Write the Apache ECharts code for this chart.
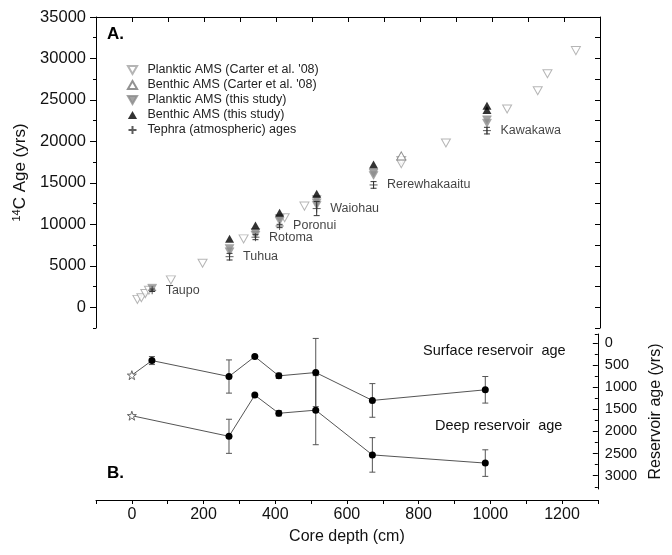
<!DOCTYPE html>
<html>
<head>
<meta charset="utf-8">
<script src="https://cdn.jsdelivr.net/npm/echarts@6/dist/echarts.min.js"></script>
<style>html,body{margin:0;padding:0;background:#fff}#c{width:672px;height:555px}</style>
</head>
<body>
<div id="c"></div>
<script>
// ---- Panel A data (depth cm, 14C age yrs) ----
const depthPlankticCarter = [15, 26, 37, 47, 108, 196, 310, 424, 479, 748, 748, 872, 1042, 1127, 1154, 1233];
const agePlankticCarter   = [950, 1150, 1650, 2050, 3300, 5300, 8250, 10800, 12200, 17700, 17300, 19800, 23900, 26100, 28150, 30950];
const depthBenthicCarter  = [748];
const ageBenthicCarter    = [18250];
const depthPlankticStudy  = [56, 271, 271, 343, 343, 410, 410, 513, 513, 513, 671, 671, 986, 986];
const agePlankticStudy    = [2300, 7100, 6700, 9000, 8700, 10700, 10400, 13000, 12600, 12300, 16200, 15900, 22600, 22200];
const depthBenthicStudy   = [271, 343, 410, 513, 671, 986, 986];
const ageBenthicStudy     = [8250, 9850, 11400, 13700, 17200, 24300, 23800];
const tephraNames = ['Taupo', 'Tuhua', 'Rotoma', 'Poronui', 'Waiohau', 'Rerewhakaaitu', 'Kawakawa'];
const tephraDepth = [56, 271, 343, 410, 513, 671, 986];
const tephraAge   = [2050, 6100, 8450, 9800, 11900, 14750, 21300];
const tephraErr   = [150, 400, 300, 200, 850, 400, 400];

// ---- Panel B data (reservoir ages) ----
const surfDepth = [0, 56, 271, 343, 410, 513, 671, 986];
const surfAge   = [730, 400, 760, 310, 745, 670, 1300, 1060];
const surfErr   = [0, 90, 375, 0, 60, 770, 380, 300];
const deepDepth = [0, 271, 343, 410, 513, 671, 986];
const deepAge   = [1645, 2110, 1180, 1590, 1520, 2530, 2715];
const deepErr   = [0, 385, 0, 60, 780, 390, 300];

// ---- Tick labels ----
const ageTicks = [0, 5000, 10000, 15000, 20000, 25000, 30000, 35000];
const ageMinorTicks = [-2500, 2500, 7500, 12500, 17500, 22500, 27500, 32500];
const resTicks = [0, 500, 1000, 1500, 2000, 2500, 3000];
const resMinorTicks = [-200, 250, 750, 1250, 1750, 2250, 2750, 3250];

const FONT = "'Liberation Sans', Arial, sans-serif";
const zip = (a, b) => a.map((v, i) => [v, b[i]]);
const zip3 = (a, b, c) => a.map((v, i) => [v, b[i], c[i]]);

const DOWN_TRI = 'path://M0,0L10,0L5,8.7Z';
const UP_TRI = 'path://M5,0L10,8.7L0,8.7Z';
const STAR = 'path://M5,0L6.2,3.6L10,3.6L6.9,5.9L8.1,9.5L5,7.3L1.9,9.5L3.1,5.9L0,3.6L3.8,3.6Z';
const PLUS = 'path://M0,5L10,5M5,0L5,10';

function errRenderer(capW, color) {
  return function (params, api) {
    const x = api.value(0), y = api.value(1), e = api.value(2);
    if (!e) return null;
    const top = api.coord([x, y + e]);
    const bot = api.coord([x, y - e]);
    const st = { stroke: color, lineWidth: 1 };
    return {
      type: 'group', children: [
        { type: 'line', shape: { x1: top[0], y1: top[1], x2: bot[0], y2: bot[1] }, style: st },
        { type: 'line', shape: { x1: top[0] - capW / 2, y1: top[1], x2: top[0] + capW / 2, y2: top[1] }, style: st },
        { type: 'line', shape: { x1: bot[0] - capW / 2, y1: bot[1], x2: bot[0] + capW / 2, y2: bot[1] }, style: st }
      ]
    };
  };
}

const chart = echarts.init(document.getElementById('c'), null, { renderer: 'canvas' });
const plain = v => String(v);

const option = {
  animation: false,
  backgroundColor: '#fff',
  textStyle: { fontFamily: FONT },
  grid: [
    { left: 96, right: 72, top: 17, height: 311 },
    { left: 96, right: 72, top: 334, height: 155 }
  ],
  legend: {
    orient: 'vertical',
    left: 121, top: 58,
    itemWidth: 20, itemHeight: 8, itemGap: 1,
    textStyle: { fontFamily: FONT, fontSize: 12.5, color: '#222', lineHeight: 14 },
    data: ['Planktic AMS (Carter et al. \'08)', 'Benthic AMS (Carter et al. \'08)', 'Planktic AMS (this study)', 'Benthic AMS (this study)', 'Tephra (atmospheric) ages']
  },
  xAxis: [
    {
      gridIndex: 0, type: 'value', position: 'top', min: -100, max: 1300, interval: 100,
      axisLine: { show: true, onZero: false, lineStyle: { color: '#000', width: 1 } },
      axisTick: { show: true, inside: true, length: 5, lineStyle: { color: '#000' } },
      axisLabel: { show: false }, splitLine: { show: false }
    },
    {
      gridIndex: 1, type: 'value', position: 'bottom', offset: 11, min: -100, max: 1300, interval: 100,
      axisLine: { show: true, onZero: false, lineStyle: { color: '#000', width: 1 } },
      axisTick: { show: true, inside: false, length: 4, lineStyle: { color: '#000' } },
      axisLabel: {
        show: true, margin: 7, fontSize: 16, color: '#111', fontFamily: FONT,
        formatter: v => (v >= 0 && v % 200 === 0) ? String(v) : ''
      },
      splitLine: { show: false },
      name: 'Core depth (cm)', nameLocation: 'middle', nameGap: 29,
      nameTextStyle: { fontSize: 16, color: '#111', fontFamily: FONT }
    }
  ],
  yAxis: [
    {
      gridIndex: 0, type: 'value', position: 'left', min: -2500, max: 35000,
      axisLine: { show: true, onZero: false, lineStyle: { color: '#000', width: 1 } },
      axisTick: { show: true, inside: false, length: 6, customValues: ageTicks, lineStyle: { color: '#000' } },
      axisLabel: { show: true, margin: 10, fontSize: 16.5, color: '#111', fontFamily: FONT, customValues: ageTicks, formatter: plain },
      splitLine: { show: false },
      name: '{s|14}C Age (yrs)', nameLocation: 'middle', nameGap: 58,
      nameTextStyle: {
        fontSize: 17, color: '#111', fontFamily: FONT,
        rich: { s: { fontSize: 11, verticalAlign: 'top', padding: [0, 0, 8, 0], fontFamily: FONT, color: '#111' } }
      }
    },
    {
      gridIndex: 0, type: 'value', position: 'left', min: -2500, max: 35000,
      axisLine: { show: false, onZero: false },
      axisTick: { show: true, inside: false, length: 3, customValues: ageMinorTicks, lineStyle: { color: '#000' } },
      axisLabel: { show: false }, splitLine: { show: false }
    },
    {
      gridIndex: 0, type: 'value', position: 'right', min: -2500, max: 35000, interval: 2500,
      axisLine: { show: true, onZero: false, lineStyle: { color: '#000', width: 1 } },
      axisTick: { show: true, inside: true, length: 5, lineStyle: { color: '#000' } },
      axisLabel: { show: false }, splitLine: { show: false }
    },
    {
      gridIndex: 1, type: 'value', position: 'right', inverse: true, min: -200, max: 3300,
      axisLine: { show: true, onZero: false, lineStyle: { color: '#000', width: 1 } },
      axisTick: { show: true, inside: true, length: 5, customValues: resTicks, lineStyle: { color: '#000' } },
      axisLabel: { show: true, margin: 7, fontSize: 14.5, color: '#111', fontFamily: FONT, customValues: resTicks, formatter: plain },
      splitLine: { show: false },
      name: 'Reservoir age (yrs)', nameLocation: 'middle', nameGap: 47,
      nameTextStyle: { fontSize: 16, color: '#111', fontFamily: FONT }
    },
    {
      gridIndex: 1, type: 'value', position: 'right', inverse: true, min: -200, max: 3300,
      axisLine: { show: false, onZero: false },
      axisTick: { show: true, inside: true, length: 3, customValues: resMinorTicks, lineStyle: { color: '#000' } },
      axisLabel: { show: false }, splitLine: { show: false }
    }
  ],
  graphic: [
    { type: 'text', left: 107, top: 26, style: { text: 'A.', font: "bold 17px 'Liberation Sans', Arial", fill: '#000' } },
    { type: 'text', left: 107, top: 465, style: { text: 'B.', font: "bold 17px 'Liberation Sans', Arial", fill: '#000' } },
    { type: 'text', left: 423, top: 343, style: { text: 'Surface reservoir  age', font: "14.5px 'Liberation Sans', Arial", fill: '#111' } },
    { type: 'text', left: 435, top: 418, style: { text: 'Deep reservoir  age', font: "14.5px 'Liberation Sans', Arial", fill: '#111' } }
  ],
  series: [
    {
      name: 'Planktic AMS (Carter et al. \'08)', type: 'scatter', xAxisIndex: 0, yAxisIndex: 0,
      symbol: DOWN_TRI, symbolSize: [9, 8],
      itemStyle: { color: '#fff', borderColor: '#a3a3a3', borderWidth: 1 },
      data: zip(depthPlankticCarter, agePlankticCarter), z: 2
    },
    {
      name: 'Benthic AMS (Carter et al. \'08)', type: 'scatter', xAxisIndex: 0, yAxisIndex: 0,
      symbol: UP_TRI, symbolSize: [9, 8],
      itemStyle: { color: '#fff', borderColor: '#777', borderWidth: 1 },
      data: zip(depthBenthicCarter, ageBenthicCarter), z: 3
    },
    {
      name: 'Planktic AMS (this study)', type: 'scatter', xAxisIndex: 0, yAxisIndex: 0,
      symbol: DOWN_TRI, symbolSize: [9, 8],
      itemStyle: { color: '#8c8c8c', borderColor: '#8c8c8c', borderWidth: 0.5 },
      data: zip(depthPlankticStudy, agePlankticStudy), z: 4
    },
    {
      name: 'Benthic AMS (this study)', type: 'scatter', xAxisIndex: 0, yAxisIndex: 0,
      symbol: UP_TRI, symbolSize: [9, 8],
      itemStyle: { color: '#000' },
      data: zip(depthBenthicStudy, ageBenthicStudy), z: 5
    },
    {
      type: 'custom', xAxisIndex: 0, yAxisIndex: 0, z: 6,
      renderItem: errRenderer(6, '#333'),
      data: zip3(tephraDepth, tephraAge, tephraErr)
    },
    {
      name: 'Tephra (atmospheric) ages', type: 'scatter', xAxisIndex: 0, yAxisIndex: 0,
      symbol: PLUS, symbolSize: 8,
      itemStyle: { color: 'none', borderColor: '#333', borderWidth: 1 },
      label: {
        show: true, position: 'right', distance: 7, fontSize: 12.5, color: '#111', fontFamily: FONT,
        formatter: p => tephraNames[p.dataIndex]
      },
      data: zip(tephraDepth, tephraAge), z: 7
    },
    // Panel B
    {
      type: 'custom', xAxisIndex: 1, yAxisIndex: 3, z: 2,
      renderItem: errRenderer(6, '#555'),
      data: zip3(surfDepth, surfAge, surfErr)
    },
    {
      type: 'custom', xAxisIndex: 1, yAxisIndex: 3, z: 2,
      renderItem: errRenderer(6, '#555'),
      data: zip3(deepDepth, deepAge, deepErr)
    },
    {
      type: 'line', xAxisIndex: 1, yAxisIndex: 3, z: 3,
      symbol: 'circle', symbolSize: 7,
      lineStyle: { color: '#555', width: 1 },
      itemStyle: { color: '#000' },
      data: zip(surfDepth, surfAge).map((d, i) => i === 0
        ? { value: d, symbol: STAR, symbolSize: 9, itemStyle: { color: '#fff', borderColor: '#666', borderWidth: 1 } }
        : { value: d })
    },
    {
      type: 'line', xAxisIndex: 1, yAxisIndex: 3, z: 3,
      symbol: 'circle', symbolSize: 7,
      lineStyle: { color: '#555', width: 1 },
      itemStyle: { color: '#000' },
      data: zip(deepDepth, deepAge).map((d, i) => i === 0
        ? { value: d, symbol: STAR, symbolSize: 9, itemStyle: { color: '#fff', borderColor: '#666', borderWidth: 1 } }
        : { value: d })
    }
  ]
};
chart.setOption(option);
</script>
</body>
</html>
